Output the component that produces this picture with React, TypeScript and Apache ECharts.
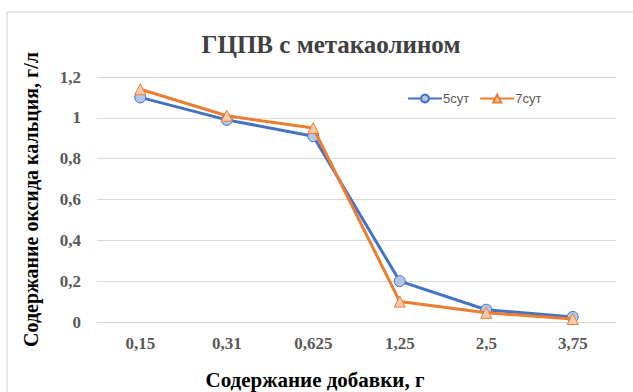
import React, { useEffect, useRef } from "react";
import * as echarts from "echarts";

const categories = ["0,15", "0,31", "0,625", "1,25", "2,5", "3,75"];
const series5 = [1.1, 0.99, 0.91, 0.2, 0.06, 0.025];
const series7 = [1.14, 1.01, 0.95, 0.1, 0.045, 0.015];
const yTicks = [0, 0.2, 0.4, 0.6, 0.8, 1, 1.2];

export default function App() {
  const ref = useRef<HTMLDivElement>(null);
  useEffect(() => {
    if (!ref.current) return;
    const chart = echarts.init(ref.current, undefined, { renderer: "svg" });
    const fmt = (v: number) => String(v).replace(".", ",");
    chart.setOption({
      animation: false,
      backgroundColor: "#ffffff",
      title: {
        text: "ГЦПВ с метакаолином",
        left: 326,
        top: 27,
        textAlign: "center",
        textStyle: {
          fontFamily: "Liberation Serif",
          fontWeight: "bold",
          fontSize: 25,
          color: "#404040",
        },
      },
      legend: {
        left: 402,
        top: 87,
        itemWidth: 34,
        itemHeight: 10,
        itemGap: 10,
        textStyle: { fontFamily: "Liberation Sans", fontSize: 13, color: "#595959", padding: [0, 0, 0, -4] },
        data: ["5сут", "7сут"],
      },
      grid: { left: 97, right: 17, top: 77, bottom: 70, containLabel: false, outerBoundsMode: "none" },
      xAxis: {
        type: "category",
        data: categories,
        boundaryGap: true,
        axisLine: { lineStyle: { color: "#d9d9d9", width: 1 } },
        axisTick: { show: false },
        axisLabel: {
          margin: 13,
          fontFamily: "Liberation Serif",
          fontWeight: "bold",
          fontSize: 17,
          color: "#595959",
        },
      },
      yAxis: {
        type: "value",
        min: 0,
        max: 1.2,
        interval: 0.2,
        name: "Содержание оксида кальция, г/л",
        nameLocation: "middle",
        nameGap: 56,
        nameTextStyle: { fontFamily: "Liberation Serif", fontWeight: "bold", fontSize: 20, color: "#000" },
        axisLine: { show: false },
        axisTick: { show: false },
        splitLine: { lineStyle: { color: "#d9d9d9", width: 1 } },
        axisLabel: {
          margin: 16,
          fontFamily: "Liberation Serif",
          fontWeight: "bold",
          fontSize: 17,
          color: "#595959",
          formatter: (v: number) => (yTicks.includes(Math.round(v * 10) / 10) ? fmt(Math.round(v * 10) / 10) : ""),
        },
      },
      series: [
        {
          name: "5сут",
          type: "line",
          data: series5,
          symbol: "circle",
          symbolSize: 11,
          lineStyle: { color: "#4472C4", width: 3 },
          itemStyle: { color: "#B4C7E7", borderColor: "#4472C4", borderWidth: 1 },
          z: 2,
        },
        {
          name: "7сут",
          type: "line",
          data: series7,
          symbol: "triangle",
          symbolSize: 11,
          lineStyle: { color: "#ED7D31", width: 3 },
          itemStyle: { color: "#F8CBAD", borderColor: "#ED7D31", borderWidth: 1 },
          z: 3,
        },
      ],
      graphic: [
        { type: "line", shape: { x1: 7, y1: 12, x2: 633, y2: 12 }, style: { stroke: "#d0d0d0", lineWidth: 1 } },
        { type: "line", shape: { x1: 7, y1: 12, x2: 7, y2: 392 }, style: { stroke: "#d0d0d0", lineWidth: 1 } },
        {
          type: "text",
          x: 315,
          y: 380,
          style: {
            text: "Содержание добавки, г",
            fontFamily: "Liberation Serif",
            fontWeight: "bold",
            fontSize: 21,
            fill: "#000",
            align: "center",
            verticalAlign: "middle",
          },
        },
      ],
    });
    return () => chart.dispose();
  }, []);
  return (
    <div
      ref={ref}
      style={{ position: "fixed", left: 0, top: 0, width: 633, height: 392 }}
    />
  );
}
